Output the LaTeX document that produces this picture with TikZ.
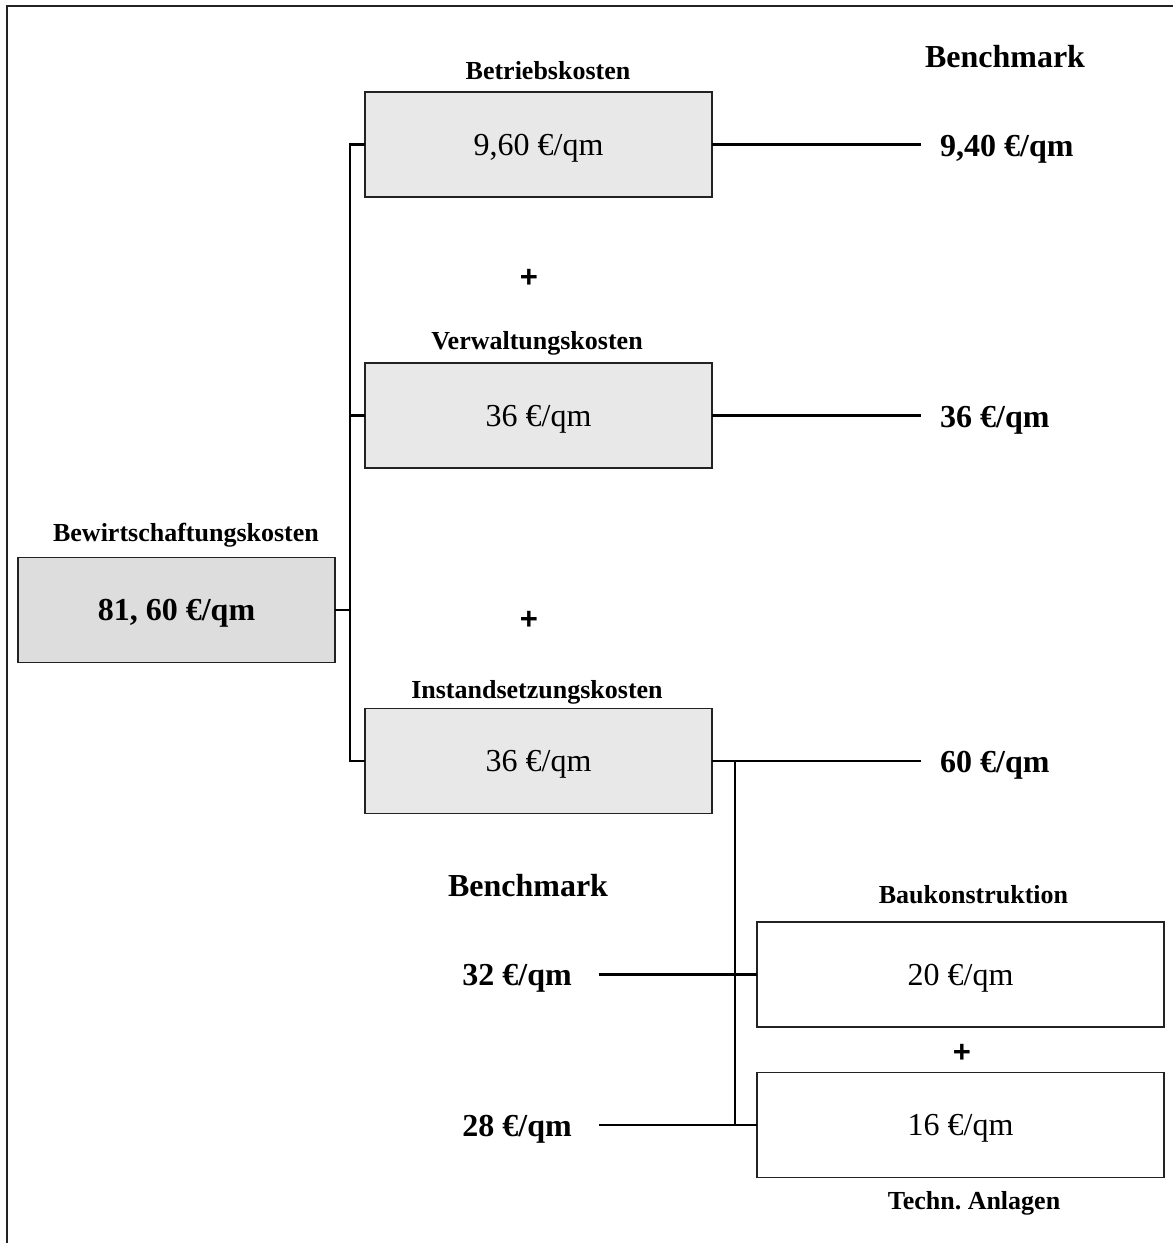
\documentclass[tikz,border=0pt]{standalone}
\usepackage{fontspec}
\setmainfont{Liberation Serif}
\newfontfamily\plusfamily{Liberation Sans}
\definecolor{boxgray}{RGB}{232,232,232}
\definecolor{sumgray}{RGB}{221,221,221}
\definecolor{edgegray}{RGB}{34,34,34}
\newcommand\valsize{\fontsize{32}{38}\selectfont}
\newcommand\headsize{\fontsize{26}{31}\selectfont\bfseries}
\frenchspacing
\begin{document}
\begin{tikzpicture}[x=1pt,y=-1pt,
  costbox/.style={draw=edgegray, line width=1.8pt, fill=boxgray, minimum width=347pt,
    minimum height=105pt, inner sep=0pt, font=\valsize, text height=21.8pt, text depth=0pt},
  sumbox/.style={costbox, fill=sumgray, minimum width=317pt, font=\valsize\bfseries},
  partbox/.style={costbox, fill=white, minimum width=407pt},
  head/.style={inner sep=0pt, font=\headsize, text height=17.7pt, text depth=0pt},
  bench/.style={inner sep=0pt, font=\valsize\bfseries, text height=21.8pt, text depth=0pt},
  plussign/.style={inner sep=0pt, font=\plusfamily\bfseries\fontsize{31}{37}\selectfont,
    text height=22.5pt, text depth=0pt},
  conn/.style={line width=2.3pt, line cap=rect},
  frameline/.style={line width=2pt, draw=edgegray}]
\useasboundingbox (0,0) rectangle (1173,1243);

% outer frame (only its left and top edges lie on the page)
\draw[frameline] (7,1260) -- (7,6) -- (1190,6);

% cost boxes
\node[costbox] (B1) at (538.5,144.5) {9,60 €/qm};
\node[costbox] (B2) at (538.5,415.5) {36 €/qm};
\node[costbox] (B3) at (538.5,761) {36 €/qm};
\node[sumbox]  (M)  at (176.5,610) {81, 60 €/qm};
\node[partbox] (K)  at (960.5,974.5) {20 €/qm};
\node[partbox] (T)  at (960.5,1125) {16 €/qm};

% headings
\node[head] (hB1) at (548,71) {Betriebskosten};
\node[head] (hB2) at (537,341) {Verwaltungskosten};
\node[head] (hB3) at (537,690) {Instandsetzungskosten};
\node[head] (hM)  at (186,533) {Bewirtschaftungskosten};
\node[head] (hK)  at (973.5,895) {Baukonstruktion};
\node[head] (hT)  at (974,1201) {Techn. Anlagen};

% plus signs
\node[plussign] (p1) at (529,276) {+};
\node[plussign] (p2) at (529,618) {+};
\node[plussign] (p3) at (962,1051) {+};

% benchmark values
\node[bench] (bmTop) at (1005,57) {Benchmark};
\node[bench, anchor=west] (v1) at (940,146) {9,40 €/qm};
\node[bench, anchor=west] (v2) at (940,417) {36 €/qm};
\node[bench, anchor=west] (v3) at (940,762) {60 €/qm};
\node[bench] (bmLow) at (528,886) {Benchmark};
\node[bench, anchor=east] (v32) at (572,975) {32 €/qm};
\node[bench, anchor=east] (v28) at (572,1126) {28 €/qm};

% helper coordinates for the connector ends
\coordinate (sp) at (350,0);
\coordinate (br) at (735,0);
\coordinate (e1) at (920,0);
\coordinate (s2) at (600,0);

% tree from the total to the three cost groups
\draw[conn] (B1.west) -- (B1.west -| sp) |- (B3.west);
\draw[conn] (B2.west) -- (B2.west -| sp);
\draw[conn] (M.east) -- (M.east -| sp);

% links to the benchmark values
\draw[conn] (B1.east) -- (B1.east -| e1);
\draw[conn] (B2.east) -- (B2.east -| e1);
\draw[conn] (B3.east) -- (B3.east -| e1);

% split of the maintenance costs
\draw[conn] (B3.east -| br) -- (T.west -| br);
\draw[conn] (K.west -| s2) -- (K.west);
\draw[conn] (T.west -| s2) -- (T.west);
\end{tikzpicture}
\end{document}
